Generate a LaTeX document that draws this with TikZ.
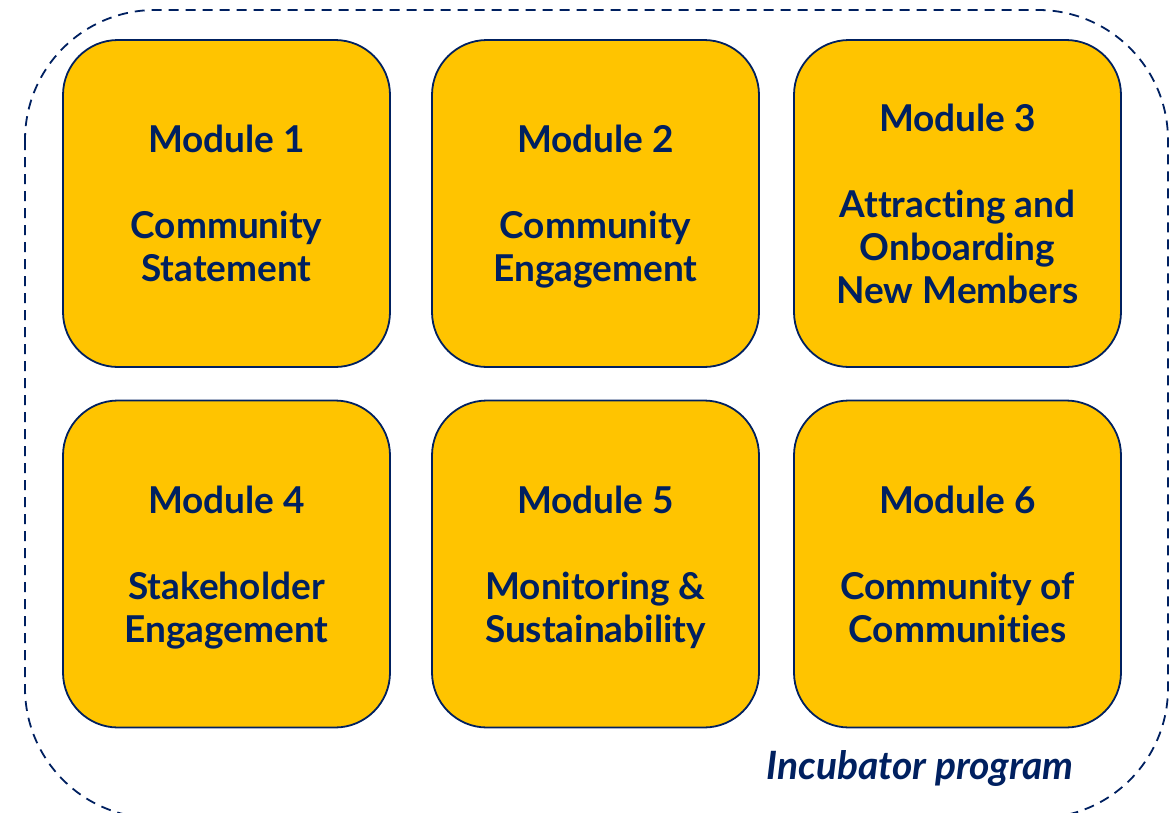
\documentclass[tikz,border=0pt]{standalone}
\usepackage{fontspec}
\setmainfont{Lato}[Ligatures=CommonOff]
\usetikzlibrary{calc}
\definecolor{modyellow}{HTML}{FFC400}
\definecolor{navy}{HTML}{002060}
\tikzstyle{module}=[rectangle,rounded corners=55pt,fill=modyellow,draw=navy,line width=1.8pt,minimum width=327pt,minimum height=327pt,inner sep=0pt,align=center,text depth=0pt,text=navy,font=\fontsize{37}{43}\selectfont\bfseries]
\tikzstyle{frame} = [draw=navy,line width=1.8pt,dash pattern=on 10pt off 7pt,rounded corners=130pt]
\tikzstyle{caption} = [text=navy,font=\fontsize{39}{43}\selectfont\bfseries\itshape]

\begin{document}
\begin{tikzpicture}[x=1pt,y=-1pt]
    \useasboundingbox (0,0) rectangle (1173,812);
    % Dashed frame of the program
    \draw[frame] (25,10) rectangle (1168,818);

    % First row of modules
    \foreach \pos/ \name/ \text in {{(226.5,203.5)/m1/{Module 1\\[43pt]Community\\Statement}},
        {(595.5,203.5)/m2/{Module 2\\[43pt]Community\\Engagement}},
        {(957.5,203.5)/m3/{Module 3\\[43pt]Attracting and\\Onboarding\\New Members}}}
        \node[module] (\name) at \pos {\text};

    % Second row of modules
    \foreach \pos/ \name/ \text in {{(226.5,564)/m4/{Module 4\\[43pt]Stakeholder\\Engagement}},
        {(595.5,564)/m5/{Module 5\\[43pt]Monitoring \&\\Sustainability}},
        {(957.5,564)/m6/{Module 6\\[43pt]Community of\\Communities}}}
        \node[module] (\name) at \pos {\text};

    \node[caption, anchor=east] (prog) at (1077,768) {Incubator program};
\end{tikzpicture}
\end{document}
